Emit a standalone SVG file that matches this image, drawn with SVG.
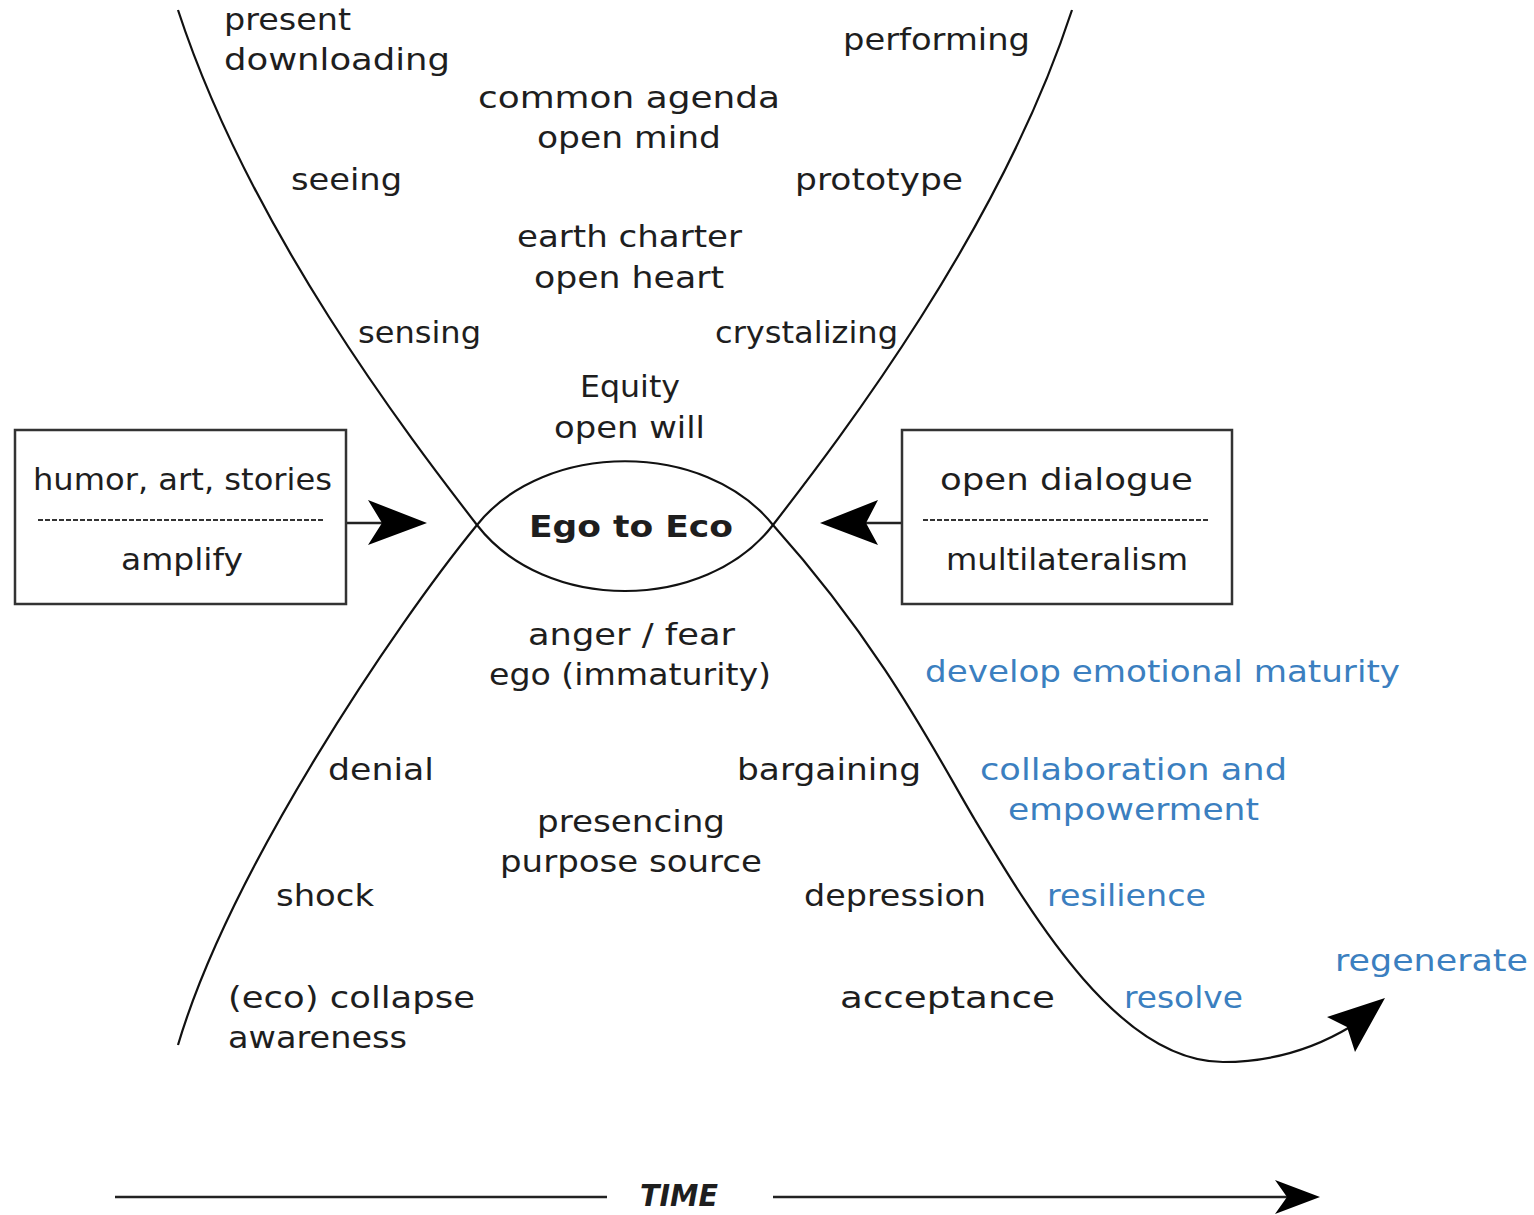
<svg xmlns="http://www.w3.org/2000/svg" width="1534" height="1215" viewBox="0 0 1534 1215">
<style>
text{font-family:"DejaVu Sans","Liberation Sans",sans-serif;font-size:30px;fill:#1e1e1e}
.b{fill:#3b7fc0}
.box{fill:#fff;stroke:#333;stroke-width:2.5}
.dash{stroke:#333;stroke-width:2;stroke-dasharray:5 2}
.curve{fill:none;stroke:#111;stroke-width:2.2}
.ln{stroke:#222;stroke-width:2.5}
.ah{fill:#000}
</style>
<rect width="1534" height="1215" fill="#fff"/>
<g id="connectors">
<path class="curve" d="M178,10 C250,230 409,437 477,525 C545,613 705,613 773,525 C841,437 1000,230 1072,10"/>
<path class="curve" d="M178,1045 C230,870 395,625 477,525 C545,440 705,440 773,525 C885,650 939,760 975,820 C1035,920 1120,1062 1223,1062 C1280,1062 1320,1045 1350,1027"/>
<polygon class="ah" points="1385,998 1327,1017 1347,1027 1355,1052"/>
<line class="ln" x1="346" y1="523" x2="385" y2="523"/>
<polygon class="ah" points="427,523 368,500 382,523 368,545"/>
<line class="ln" x1="902" y1="523" x2="862" y2="523"/>
<polygon class="ah" points="820,523 878,500 866,523 878,545"/>
<line class="ln" x1="115" y1="1197" x2="607" y2="1197"/>
<line class="ln" x1="773" y1="1197" x2="1290" y2="1197"/>
<polygon class="ah" points="1320,1197 1275,1180 1287,1197 1275,1214"/>
</g>
<g id="box-left">
<rect class="box" x="15" y="430" width="331" height="174"/>
<line class="dash" x1="38" y1="520" x2="325" y2="520"/>
<text x="33" y="490" textLength="299" lengthAdjust="spacingAndGlyphs">humor, art, stories</text>
<text x="121" y="570" textLength="122" lengthAdjust="spacingAndGlyphs">amplify</text>
</g>
<g id="box-right">
<rect class="box" x="902" y="430" width="330" height="174"/>
<line class="dash" x1="923" y1="520" x2="1210" y2="520"/>
<text x="940" y="490" textLength="253" lengthAdjust="spacingAndGlyphs">open dialogue</text>
<text x="946" y="570" textLength="242" lengthAdjust="spacingAndGlyphs">multilateralism</text>
</g>
<g id="center">
<text x="529" y="537" font-weight="bold" font-size="32" textLength="204" lengthAdjust="spacingAndGlyphs">Ego to Eco</text>
</g>
<g id="top-labels">
<text x="224" y="30" textLength="127" lengthAdjust="spacingAndGlyphs">present</text>
<text x="224" y="70" textLength="226" lengthAdjust="spacingAndGlyphs">downloading</text>
<text x="843" y="50" textLength="187" lengthAdjust="spacingAndGlyphs">performing</text>
<text x="478" y="108" textLength="302" lengthAdjust="spacingAndGlyphs">common agenda</text>
<text x="537" y="148" textLength="184" lengthAdjust="spacingAndGlyphs">open mind</text>
<text x="291" y="190" textLength="111" lengthAdjust="spacingAndGlyphs">seeing</text>
<text x="795" y="190" textLength="168" lengthAdjust="spacingAndGlyphs">prototype</text>
<text x="517" y="247" textLength="225" lengthAdjust="spacingAndGlyphs">earth charter</text>
<text x="534" y="288" textLength="190" lengthAdjust="spacingAndGlyphs">open heart</text>
<text x="358" y="343" textLength="123" lengthAdjust="spacingAndGlyphs">sensing</text>
<text x="715" y="343" textLength="183" lengthAdjust="spacingAndGlyphs">crystalizing</text>
<text x="580" y="397" textLength="100" lengthAdjust="spacingAndGlyphs">Equity</text>
<text x="554" y="438" textLength="151" lengthAdjust="spacingAndGlyphs">open will</text>
</g>
<g id="bottom-labels">
<text x="528" y="645" textLength="207" lengthAdjust="spacingAndGlyphs">anger / fear</text>
<text x="489" y="685" textLength="282" lengthAdjust="spacingAndGlyphs">ego (immaturity)</text>
<text x="328" y="780" textLength="106" lengthAdjust="spacingAndGlyphs">denial</text>
<text x="737" y="780" textLength="184" lengthAdjust="spacingAndGlyphs">bargaining</text>
<text x="537" y="832" textLength="188" lengthAdjust="spacingAndGlyphs">presencing</text>
<text x="500" y="872" textLength="262" lengthAdjust="spacingAndGlyphs">purpose source</text>
<text x="276" y="906" textLength="98" lengthAdjust="spacingAndGlyphs">shock</text>
<text x="804" y="906" textLength="182" lengthAdjust="spacingAndGlyphs">depression</text>
<text x="228" y="1008" textLength="247" lengthAdjust="spacingAndGlyphs">(eco) collapse</text>
<text x="840" y="1008" textLength="215" lengthAdjust="spacingAndGlyphs">acceptance</text>
<text x="228" y="1048" textLength="179" lengthAdjust="spacingAndGlyphs">awareness</text>
</g>
<g id="blue-labels">
<text class="b" x="925" y="682" textLength="475" lengthAdjust="spacingAndGlyphs">develop emotional maturity</text>
<text class="b" x="980" y="780" textLength="307" lengthAdjust="spacingAndGlyphs">collaboration and</text>
<text class="b" x="1008" y="820" textLength="251" lengthAdjust="spacingAndGlyphs">empowerment</text>
<text class="b" x="1047" y="906" textLength="159" lengthAdjust="spacingAndGlyphs">resilience</text>
<text class="b" x="1335" y="971" textLength="193" lengthAdjust="spacingAndGlyphs">regenerate</text>
<text class="b" x="1124" y="1008" textLength="119" lengthAdjust="spacingAndGlyphs">resolve</text>
</g>
<g id="time">
<text x="640" y="1206" font-family="Liberation Sans, sans-serif" font-weight="bold" font-style="italic" font-size="44" textLength="78" lengthAdjust="spacingAndGlyphs">TIME</text>
</g>
</svg>
